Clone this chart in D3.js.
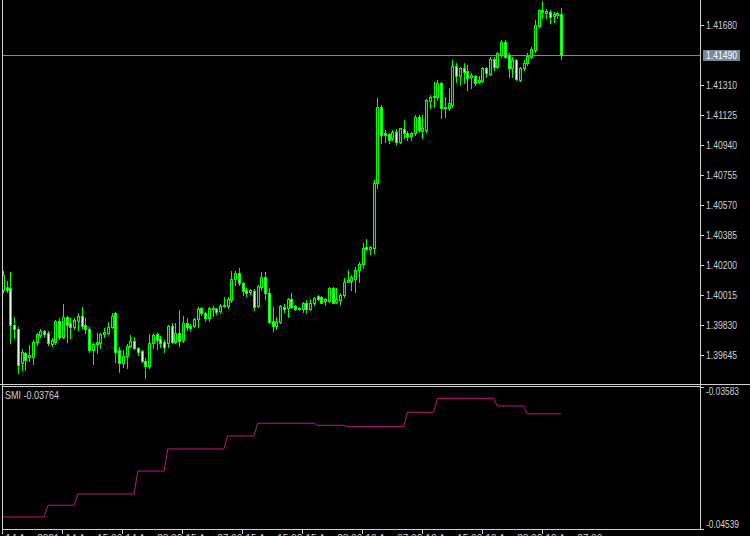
<!DOCTYPE html>
<html><head><meta charset="utf-8">
<script src="https://cdn.jsdelivr.net/npm/d3@7"></script>
<style>html,body{margin:0;padding:0;background:#000;overflow:hidden}svg{display:block}</style>
</head><body>
<script>
// ---------- DATA ----------
const openP=[
1.40044,1.40062,1.40056,1.39828,1.39804,1.39594,1.39656,1.39631,1.39631,1.39724,
1.39766,1.39791,1.39779,1.39711,1.39724,1.39853,1.39754,1.39877,1.39841,1.39816,
1.39853,1.39883,1.39828,1.39804,1.39674,1.39711,1.39718,1.39772,1.39779,1.39816,
1.39902,1.39674,1.39594,1.39637,1.39699,1.39730,1.39687,1.39668,1.39606,1.39575,
1.39718,1.39772,1.39742,1.39724,1.39718,1.39822,1.39724,1.39779,1.39736,1.39841,
1.39822,1.39822,1.39865,1.39933,1.39902,1.39871,1.39933,1.39927,1.39914,1.39945,
1.39945,1.39982,1.40111,1.40148,1.40087,1.40044,1.40032,1.40038,1.39945,1.40062,
1.40124,1.40025,1.39853,1.39822,1.39847,1.39939,1.39933,1.39988,1.39945,1.39927,
1.39927,1.39964,1.39927,1.39964,1.40007,1.40001,1.39976,1.39976,1.40056,1.39970,
1.39982,1.40013,1.40093,1.40099,1.40111,1.40167,1.40204,1.40309,1.40297,1.40303,
1.40704,1.41171,1.41011,1.41005,1.40981,1.41018,1.40956,1.41036,1.41011,1.40993,
1.41011,1.41110,1.41024,1.41030,1.41209,1.41233,1.41233,1.41320,1.41171,1.41165,
1.41184,1.41424,1.41363,1.41412,1.41393,1.41356,1.41363,1.41326,1.41332,1.41412,
1.41375,1.41467,1.41418,1.41492,1.41572,1.41492,1.41412,1.41461,1.41338,1.41412,
1.41443,1.41480,1.41523,1.41671,1.41769,1.41751,1.41757,1.41732,1.41739,1.41745];
const highP=[
1.40161,1.40099,1.40155,1.39877,1.39816,1.39681,1.39662,1.39705,1.39736,1.39779,
1.39804,1.39797,1.39791,1.39748,1.39859,1.39871,1.39957,1.39883,1.39871,1.39871,
1.39902,1.39939,1.39871,1.39816,1.39718,1.39779,1.39779,1.39810,1.39847,1.39902,
1.39908,1.39693,1.39674,1.39711,1.39766,1.39754,1.39693,1.39674,1.39625,1.39772,
1.39779,1.39779,1.39760,1.39736,1.39828,1.39841,1.39841,1.39920,1.39883,1.39871,
1.39834,1.39871,1.39939,1.39939,1.39908,1.39939,1.39945,1.39933,1.39957,1.40001,
1.40001,1.40161,1.40161,1.40179,1.40093,1.40056,1.40050,1.40050,1.40074,1.40155,
1.40155,1.40056,1.39939,1.39877,1.39951,1.39957,1.39994,1.40025,1.39951,1.39939,
1.39970,1.39982,1.39988,1.40001,1.40013,1.40007,1.39994,1.40062,1.40062,1.40056,
1.40025,1.40118,1.40167,1.40136,1.40185,1.40217,1.40334,1.40358,1.40315,1.40722,
1.41227,1.41184,1.41030,1.41011,1.41030,1.41036,1.41042,1.41091,1.41024,1.41018,
1.41122,1.41122,1.41122,1.41221,1.41245,1.41326,1.41338,1.41326,1.41233,1.41289,
1.41461,1.41443,1.41418,1.41443,1.41430,1.41381,1.41369,1.41363,1.41418,1.41418,
1.41480,1.41480,1.41511,1.41585,1.41585,1.41505,1.41480,1.41467,1.41418,1.41461,
1.41505,1.41541,1.41708,1.41776,1.41825,1.41776,1.41769,1.41757,1.41757,1.41782];
const lowP=[
1.40032,1.40032,1.39718,1.39748,1.39533,1.39551,1.39551,1.39606,1.39587,1.39705,
1.39754,1.39760,1.39705,1.39699,1.39711,1.39742,1.39748,1.39724,1.39748,1.39804,
1.39797,1.39810,1.39779,1.39662,1.39587,1.39656,1.39687,1.39754,1.39772,1.39810,
1.39600,1.39539,1.39569,1.39563,1.39693,1.39681,1.39643,1.39600,1.39502,1.39563,
1.39687,1.39681,1.39693,1.39662,1.39693,1.39718,1.39718,1.39699,1.39724,1.39797,
1.39797,1.39816,1.39816,1.39889,1.39853,1.39853,1.39883,1.39895,1.39902,1.39939,
1.39933,1.39970,1.40074,1.40074,1.40013,1.40007,1.40019,1.39920,1.39939,1.40044,
1.39988,1.39841,1.39791,1.39804,1.39841,1.39908,1.39877,1.39933,1.39920,1.39920,
1.39908,1.39902,1.39920,1.39951,1.39982,1.39964,1.39951,1.39970,1.39964,1.39964,
1.39951,1.40001,1.40093,1.40044,1.40032,1.40093,1.40179,1.40290,1.40265,1.40272,
1.40672,1.40950,1.40956,1.40950,1.40968,1.40937,1.40950,1.40981,1.40968,1.40968,
1.40999,1.41018,1.40981,1.41018,1.41165,1.41171,1.41215,1.41104,1.41110,1.41153,
1.41171,1.41326,1.41307,1.41320,1.41276,1.41289,1.41307,1.41320,1.41326,1.41356,
1.41369,1.41400,1.41412,1.41480,1.41474,1.41356,1.41356,1.41338,1.41332,1.41400,
1.41430,1.41474,1.41511,1.41665,1.41720,1.41720,1.41689,1.41695,1.41720,1.41467];
const closeP=[
1.40136,1.40044,1.39828,1.39804,1.39581,1.39662,1.39612,1.39643,1.39724,1.39772,
1.39791,1.39772,1.39718,1.39736,1.39853,1.39754,1.39877,1.39828,1.39816,1.39859,
1.39883,1.39822,1.39804,1.39674,1.39711,1.39724,1.39772,1.39785,1.39816,1.39883,
1.39662,1.39594,1.39637,1.39699,1.39730,1.39687,1.39662,1.39606,1.39575,1.39718,
1.39766,1.39736,1.39718,1.39693,1.39822,1.39724,1.39779,1.39730,1.39841,1.39816,
1.39810,1.39865,1.39927,1.39902,1.39871,1.39933,1.39927,1.39908,1.39945,1.39951,
1.39988,1.40111,1.40148,1.40087,1.40038,1.40025,1.40044,1.39939,1.40068,1.40124,
1.40025,1.39847,1.39822,1.39847,1.39945,1.39927,1.39988,1.39939,1.39927,1.39933,
1.39964,1.39927,1.39964,1.39994,1.39988,1.39964,1.39988,1.40056,1.39964,1.39988,
1.40013,1.40093,1.40105,1.40124,1.40167,1.40204,1.40303,1.40297,1.40309,1.40704,
1.41171,1.40999,1.40999,1.40968,1.41018,1.40956,1.41042,1.41011,1.40987,1.41011,
1.41110,1.41030,1.41042,1.41215,1.41233,1.41239,1.41320,1.41165,1.41165,1.41196,
1.41424,1.41363,1.41412,1.41387,1.41350,1.41369,1.41320,1.41338,1.41412,1.41381,
1.41467,1.41418,1.41505,1.41572,1.41480,1.41412,1.41461,1.41344,1.41412,1.41443,
1.41486,1.41529,1.41677,1.41769,1.41757,1.41763,1.41726,1.41745,1.41751,1.41490];
const smiValues=[
-0.04458,-0.04458,-0.04458,-0.04458,-0.04458,-0.04458,-0.04458,-0.04458,-0.04458,-0.04458,
-0.04458,-0.04458,-0.04379,-0.04379,-0.04379,-0.04379,-0.04379,-0.04379,-0.04379,-0.04379,
-0.04303,-0.04303,-0.04303,-0.04303,-0.04303,-0.04303,-0.04303,-0.04303,-0.04303,-0.04303,
-0.04303,-0.04303,-0.04303,-0.04303,-0.04303,-0.04303,-0.04149,-0.04149,-0.04149,-0.04149,
-0.04149,-0.04149,-0.04149,-0.04149,-0.04000,-0.04000,-0.04000,-0.04000,-0.04000,-0.04000,
-0.04000,-0.04000,-0.04000,-0.04000,-0.04000,-0.04000,-0.04000,-0.04000,-0.04000,-0.04000,
-0.03913,-0.03913,-0.03913,-0.03913,-0.03913,-0.03913,-0.03913,-0.03913,-0.03827,-0.03827,
-0.03827,-0.03827,-0.03827,-0.03827,-0.03827,-0.03827,-0.03827,-0.03827,-0.03827,-0.03827,
-0.03827,-0.03827,-0.03827,-0.03827,-0.03841,-0.03841,-0.03841,-0.03841,-0.03841,-0.03841,
-0.03841,-0.03841,-0.03850,-0.03850,-0.03850,-0.03850,-0.03850,-0.03850,-0.03850,-0.03850,
-0.03850,-0.03850,-0.03850,-0.03850,-0.03850,-0.03850,-0.03850,-0.03850,-0.03753,-0.03753,
-0.03753,-0.03753,-0.03753,-0.03753,-0.03753,-0.03753,-0.03659,-0.03659,-0.03659,-0.03659,
-0.03659,-0.03659,-0.03659,-0.03659,-0.03659,-0.03659,-0.03659,-0.03659,-0.03659,-0.03659,
-0.03659,-0.03659,-0.03711,-0.03711,-0.03711,-0.03711,-0.03711,-0.03711,-0.03711,-0.03711,
-0.03764,-0.03764,-0.03764,-0.03764,-0.03764,-0.03764,-0.03764,-0.03764,-0.03764,-0.03764];
const priceTicks=[1.39645,1.39830,1.40015,1.40200,1.40385,1.40570,1.40755,1.40940,1.41125,1.41310,1.41680];
const smiTicks=[-0.03583,-0.04539];
const timeTickBars=[0,16,32,48,64,80,96,112,128,144];
const timeTickLabels=["14 Apr 2021","14 Apr 15:00","14 Apr 23:00","15 Apr 07:00","15 Apr 15:00","15 Apr 23:00","16 Apr 07:00","16 Apr 15:00","16 Apr 23:00","19 Apr 07:00"];
const bidPrice=1.41490;
const smiName="SMI";

// ---------- CHART ----------
const W=750,H=536;
const FG="#d0d0d0";
const FONT="'Liberation Sans', Arial, sans-serif";
const svg=d3.select("body").append("svg").attr("width",W).attr("height",H).style("background","#000");
svg.append("rect").attr("width",W).attr("height",H).attr("fill","#000");

const n=closeP.length;
const x=d3.scaleLinear().domain([0,n-1]).range([3,561]);
const y=d3.scaleLinear().domain([1.39471,1.41831]).range([383,0]);
const ys=d3.scaleLinear().domain([-0.04539,-0.03583]).range([529,387]);

const defs=svg.append("defs");
defs.append("clipPath").attr("id","mainClip").append("rect").attr("x",3).attr("y",0).attr("width",697).attr("height",384);
defs.append("clipPath").attr("id","subClip").append("rect").attr("x",3).attr("y",387).attr("width",697).attr("height",142);

// bid line (under candles)
const yb=Math.round(y(bidPrice))+0.5;
svg.append("line").attr("x1",2).attr("x2",700).attr("y1",yb).attr("y2",yb).attr("stroke","#778899").attr("stroke-width",1);

// candles
const gC=svg.append("g").attr("clip-path","url(#mainClip)");
const bars=d3.range(n);
const top_=i=>Math.round(y(Math.max(openP[i],closeP[i])));
const bot_=i=>Math.round(y(Math.min(openP[i],closeP[i])));
gC.selectAll("rect.wick").data(bars).join("rect").attr("class","wick")
  .attr("x",i=>Math.round(x(i))).attr("width",1)
  .attr("y",i=>Math.round(y(highP[i])))
  .attr("height",i=>Math.max(1,Math.round(y(lowP[i]))-Math.round(y(highP[i]))+1))
  .attr("fill","#00ff00");
gC.selectAll("rect.body").data(bars).join("rect").attr("class","body")
  .attr("x",i=>Math.round(x(i))-1).attr("width",3)
  .attr("y",top_)
  .attr("height",i=>Math.max(1,bot_(i)-top_(i)+1))
  .attr("fill","#00ff00");
gC.selectAll("rect.inner").data(bars.filter(i=>bot_(i)-top_(i)>=2))
  .join("rect").attr("class","inner")
  .attr("x",i=>Math.round(x(i))).attr("width",1)
  .attr("y",i=>top_(i)+1)
  .attr("height",i=>bot_(i)-top_(i)-1)
  .attr("fill",i=>closeP[i]>=openP[i]?"#003300":"#d8ffd8");

// SMI line
const line=d3.line().x((d,i)=>x(i)).y(d=>ys(d));
svg.append("path").attr("clip-path","url(#subClip)").datum(smiValues).attr("d",line)
  .attr("fill","none").attr("stroke","#c71585").attr("stroke-width",1);

// frames
const fr=svg.append("g").attr("stroke",FG).attr("stroke-width",1).attr("shape-rendering","crispEdges");
fr.append("line").attr("x1",2.5).attr("x2",2.5).attr("y1",0).attr("y2",530);
fr.append("line").attr("x1",700.5).attr("x2",700.5).attr("y1",0).attr("y2",530);
fr.append("line").attr("x1",0).attr("x2",750).attr("y1",384.5).attr("y2",384.5);
fr.append("line").attr("x1",2).attr("x2",701).attr("y1",386.5).attr("y2",386.5);
fr.append("line").attr("x1",2).attr("x2",701).attr("y1",529.5).attr("y2",529.5);

// price axis
const gA=svg.append("g");
priceTicks.forEach(p=>{
  const yy=Math.round(y(p))+0.5;
  gA.append("line").attr("x1",700).attr("x2",704).attr("y1",yy).attr("y2",yy).attr("stroke",FG).attr("shape-rendering","crispEdges");
  gA.append("text").attr("x",706).attr("y",yy+3.6).attr("fill",FG)
    .attr("font-family",FONT).attr("font-size",10).attr("textLength",31).attr("lengthAdjust","spacingAndGlyphs")
    .text(p.toFixed(5));
});
// bid label
gA.append("rect").attr("x",703).attr("y",yb-5.5).attr("width",37).attr("height",11).attr("fill","#778899");
gA.append("text").attr("x",706).attr("y",yb+3.6).attr("fill","#ffffff")
  .attr("font-family",FONT).attr("font-size",10).attr("textLength",31).attr("lengthAdjust","spacingAndGlyphs")
  .text(bidPrice.toFixed(5));

// SMI axis
smiTicks.forEach((v,k)=>{
  const yy=Math.round(ys(v))+0.5;
  gA.append("line").attr("x1",700).attr("x2",704).attr("y1",yy).attr("y2",yy).attr("stroke",FG).attr("shape-rendering","crispEdges");
  gA.append("text").attr("x",706).attr("y",k===0?yy+7.6:yy-1.6).attr("fill",FG)
    .attr("font-family",FONT).attr("font-size",10).attr("textLength",33).attr("lengthAdjust","spacingAndGlyphs")
    .text(v.toFixed(5));
});
// SMI title
svg.append("text").attr("x",5).attr("y",398.5).attr("fill",FG)
  .attr("font-family",FONT).attr("font-size",10).attr("textLength",54).attr("lengthAdjust","spacingAndGlyphs")
  .text(smiName+" "+smiValues[n-1].toFixed(5));

// time axis (labels sit below the frame edge, as in the reference)
timeTickBars.forEach((b,k)=>{
  const xx=Math.round(x(b)-0.6)+0.5;
  gA.append("line").attr("x1",xx).attr("x2",xx).attr("y1",529).attr("y2",534).attr("stroke",FG).attr("shape-rendering","crispEdges");
  gA.append("text").attr("x",xx+3).attr("y",541.5).attr("fill",FG)
    .attr("font-family",FONT).attr("font-size",10).text(timeTickLabels[k]);
});
</script>
</body></html>
